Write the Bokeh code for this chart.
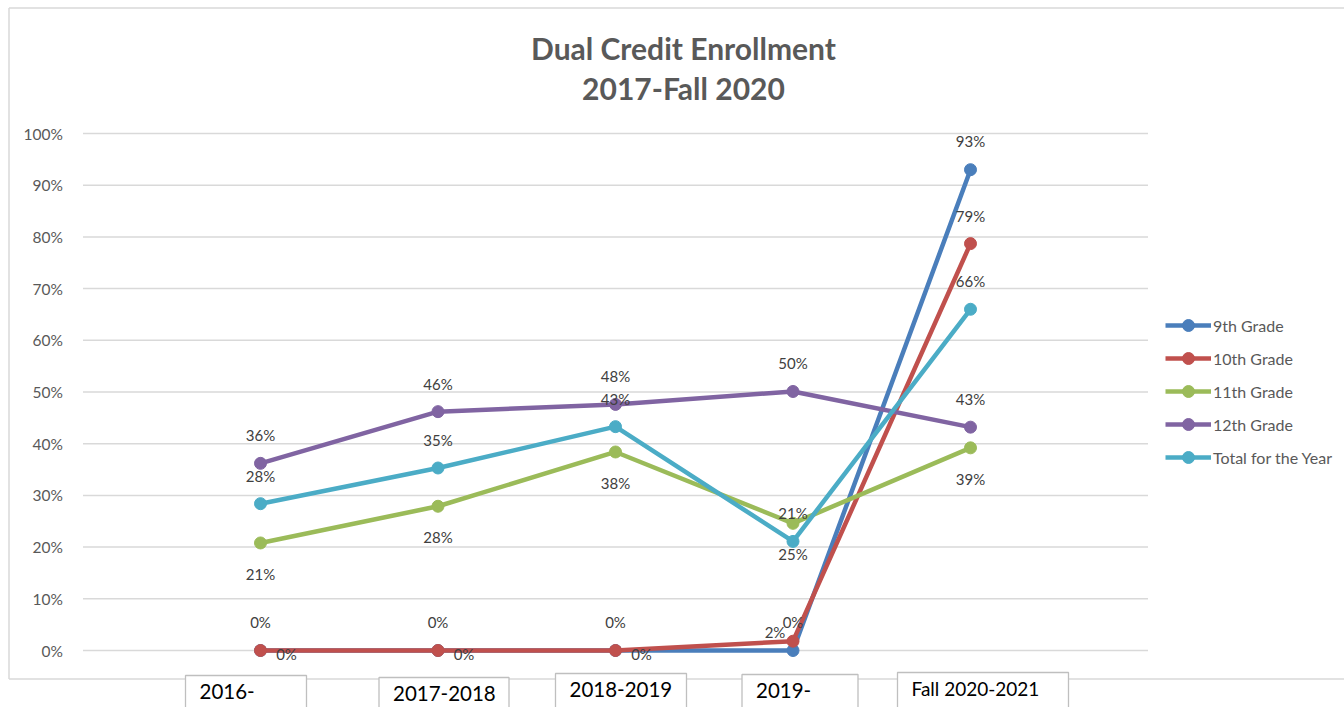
from bokeh.plotting import figure
from bokeh.models import (Range1d, Legend, LegendItem, LinearAxis, FixedTicker,
                          NumeralTickFormatter, Label)
from bokeh.core.properties import value
from bokeh.embed import file_html
from bokeh.resources import INLINE

# ---------------- data ----------------
categories = ["2016-", "2017-2018", "2018-2019", "2019-", "Fall 2020-2021"]
grade9 = [0.0, 0.0, 0.0, 0.0, 0.930]
grade10 = [0.0, 0.0, 0.0, 0.018, 0.787]
grade11 = [0.208, 0.279, 0.384, 0.246, 0.392]
grade12 = [0.362, 0.462, 0.476, 0.501, 0.432]
total = [0.284, 0.353, 0.433, 0.211, 0.660]
series_names = ["9th Grade", "10th Grade", "11th Grade", "12th Grade", "Total for the Year"]
y_ticks = [0.0, 0.1, 0.2, 0.3, 0.4, 0.5, 0.6, 0.7, 0.8, 0.9, 1.0]
title_lines = ["Dual Credit Enrollment", "2017-Fall 2020"]

# ---------------- layout geometry (canvas pixels) ----------------
FONT = "Lato"
W, H = 1344, 707
PXX = 177.5            # px per category
PXY = 517.0            # px per 100%
X0_PAGE = 260.0        # x of first category
Y0_PAGE = 650.0        # y of 0%

def px2x(px):
    return (px - X0_PAGE) / PXX

def py2y(py):
    return (Y0_PAGE - py) / PXY

x = list(range(len(categories)))

p = figure(width=W, height=H, output_backend="svg", toolbar_location=None,
           x_range=Range1d(px2x(0), px2x(W)),
           y_range=Range1d(py2y(H), py2y(0)),
           x_axis_location=None, y_axis_location=None,
           min_border=0, min_border_left=0, min_border_right=0,
           min_border_top=0, min_border_bottom=0)
p.outline_line_color = None
p.background_fill_color = "white"
p.border_fill_color = "white"
p.xgrid.visible = False
p.ygrid.visible = False

# chart border (light gray frame)
bc = "#d9d9d9"
p.segment(x0=[px2x(8.5), px2x(8.5), px2x(8.5)],
          y0=[py2y(7.5), py2y(7.5), py2y(678.5)],
          x1=[px2x(8.5), px2x(W), px2x(W)],
          y1=[py2y(678.5), py2y(7.5), py2y(678.5)],
          line_color=bc, line_width=1.5)

# gridlines
p.segment(x0=[-1.0] * len(y_ticks), y0=y_ticks, x1=[5.0] * len(y_ticks), y1=y_ticks,
          line_color="#d9d9d9", line_width=1.5)

# y axis inside the frame
yaxis = LinearAxis(fixed_location=-1.0, ticker=FixedTicker(ticks=y_ticks),
                   formatter=NumeralTickFormatter(format="0%"))
yaxis.axis_line_color = None
yaxis.major_tick_line_color = None
yaxis.minor_tick_line_color = None
yaxis.major_label_standoff = 14
yaxis.major_label_text_font = FONT
yaxis.major_label_text_font_size = "15.5px"
yaxis.major_label_text_color = "#595959"
p.add_layout(yaxis, "left")

# series
colors = ["#4a7ebb", "#c0504d", "#9bbb59", "#8064a2", "#4bacc6"]
series = [grade9, grade10, grade11, grade12, total]
items = []
for name, vals, c in zip(series_names, series, colors):
    lr = p.line(x, vals, line_color=c, line_width=4.5)
    sr = p.scatter(x, vals, size=12, fill_color=c, line_color=c)
    items.append(LegendItem(label=name, renderers=[lr, sr]))

# data labels: (dx, dy) pixel offsets per series/point
label_offsets = [
    [(0, -29)] * 5,                                             # 9th
    [(26, 3), (26, 3), (26, 3), (-18, -9), (0, -28)],           # 10th
    [(0, 31)] * 5,                                              # 11th
    [(0, -28)] * 5,                                             # 12th
    [(0, -28)] * 5,                                             # total
]
for vals, offs in zip(series, label_offsets):
    txt = ["%d%%" % int(v * 100 + 0.5) for v in vals]
    p.text(x=x, y=vals, text=txt, x_offset=[o[0] for o in offs],
           y_offset=[o[1] for o in offs], text_align="center",
           text_baseline="middle", text_font=value(FONT),
           text_font_size="15px", text_color="#404040")

# category label boxes
box_left_off = [-75, -59, -60, -51, -73]   # px from category centre
box_w = [121, 130, 131, 116, 171]
box_top = [675, 677, 673, 674, 672]
for i, cat in enumerate(categories):
    l = i + box_left_off[i] / PXX
    r = i + (box_left_off[i] + box_w[i]) / PXX
    p.quad(left=[l], right=[r], top=[py2y(box_top[i])], bottom=[py2y(740)],
           fill_color="white", line_color="#bfbfbf", line_width=1.3)
    p.text(x=[l], y=[py2y(box_top[i] + 16)], text=[cat], x_offset=14,
           text_align="left", text_baseline="middle", text_font=value(FONT),
           text_font_size="20.5px" if i < 4 else "19px", text_color="#000000")

# title
for k, t in enumerate(title_lines):
    p.add_layout(Label(x=px2x(683), y=py2y(47 + 40 * k), text=t, text_align="center",
                       text_baseline="middle", text_font=FONT, text_font_style="bold",
                       text_font_size="30px", text_color="#595959"))

legend = Legend(items=items, location=(1165, 235), glyph_width=46, glyph_height=30,
                spacing=3, padding=0, margin=0, label_standoff=2,
                border_line_color=None, background_fill_alpha=0,
                label_text_font=FONT, label_text_font_size="16px",
                label_text_color="#595959")
p.add_layout(legend)

open("out.html", "w").write(file_html(p, INLINE))
